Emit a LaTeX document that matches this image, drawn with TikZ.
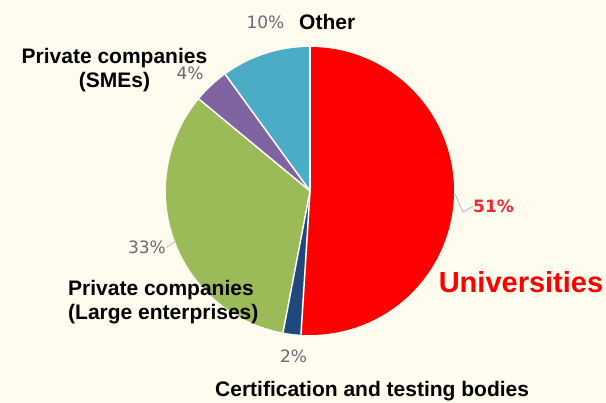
\documentclass[tikz,border=0pt]{standalone}
\usepackage{fontspec}
\setmainfont{Liberation Sans}
\newfontfamily\pctfont{DejaVu Sans}
\usetikzlibrary{positioning}
\definecolor{bgcream}{RGB}{254,252,238}
\definecolor{uniRed}{RGB}{255,0,0}
\definecolor{certNavy}{RGB}{31,73,125}
\definecolor{largeGreen}{RGB}{155,187,89}
\definecolor{smePurple}{RGB}{128,100,162}
\definecolor{otherBlue}{RGB}{75,172,198}
\definecolor{pctGray}{RGB}{105,105,115}
\definecolor{pctRed}{RGB}{240,40,50}
\definecolor{leadGray}{RGB}{185,185,185}
\tikzstyle{slice} = [draw=white, line width=1.5pt]
\tikzstyle{pct} = [font=\pctfont\fontsize{17}{19}\selectfont, text=pctGray, inner sep=0pt]
\tikzstyle{lbl} = [font=\bfseries\fontsize{21}{24}\selectfont, align=center, inner sep=0pt]
\tikzstyle{leader} = [leadGray, line width=0.8pt]

\begin{document}
\begin{tikzpicture}[x=1pt,y=1pt]
      \fill[bgcream] (0,0) rectangle (606,403);
      \useasboundingbox (0,0) rectangle (606,403);

      \coordinate (c) at (310,212);
      % slices, clockwise from the top
      \fill[uniRed]     (c) -- ++(90:144)     arc[start angle=90,     end angle=-93.6,  radius=144] -- cycle;
      \fill[certNavy]   (c) -- ++(-93.6:144)  arc[start angle=-93.6,  end angle=-100.8, radius=144] -- cycle;
      \fill[largeGreen] (c) -- ++(-100.8:144) arc[start angle=-100.8, end angle=-219.6, radius=144] -- cycle;
      \fill[smePurple]  (c) -- ++(-219.6:144) arc[start angle=-219.6, end angle=-234,   radius=144] -- cycle;
      \fill[otherBlue]  (c) -- ++(-234:144)   arc[start angle=-234,   end angle=-270,   radius=144] -- cycle;
      \foreach \a in {90,-93.6,-100.8,-219.6,-234}
        \draw[slice] (c) -- ++(\a:144);

      \node[pct] (p10) at (265.5,380.5) {10\%};
      \node[lbl, anchor=north west] (other) at (299,389) {Other};

      \node[lbl, anchor=north] (sme) at (114.5,355) {Private companies\\(SMEs)};
      \node[pct] (p4) at (190,329.5) {4\%};

      \node[pct] (p33) at (147,155.5) {33\%};
      \coordinate (l33) at (176,162);
      \draw[leader] (p33.east) -- (l33);
      \node[lbl, align=left, anchor=north west] (large) at (68,123) {Private companies\\(Large enterprises)};

      \node[pct] (p2) at (293.5,46.5) {2\%};
      \node[lbl, anchor=south west] (cert) at (215,1.5) {Certification and testing bodies};

      \node[pct, font=\pctfont\bfseries\fontsize{17}{19}\selectfont, text=pctRed, anchor=west] (p51) at (473,196.5) {51\%};
      \coordinate (l51) at (455,209);
      \draw[leader] (l51) -- (463,191) -- (p51.west);
      \node[font=\bfseries\fontsize{29}{32}\selectfont, text=uniRed, inner sep=0pt] (uni) at (521,121) {Universities};
\end{tikzpicture}
\end{document}
